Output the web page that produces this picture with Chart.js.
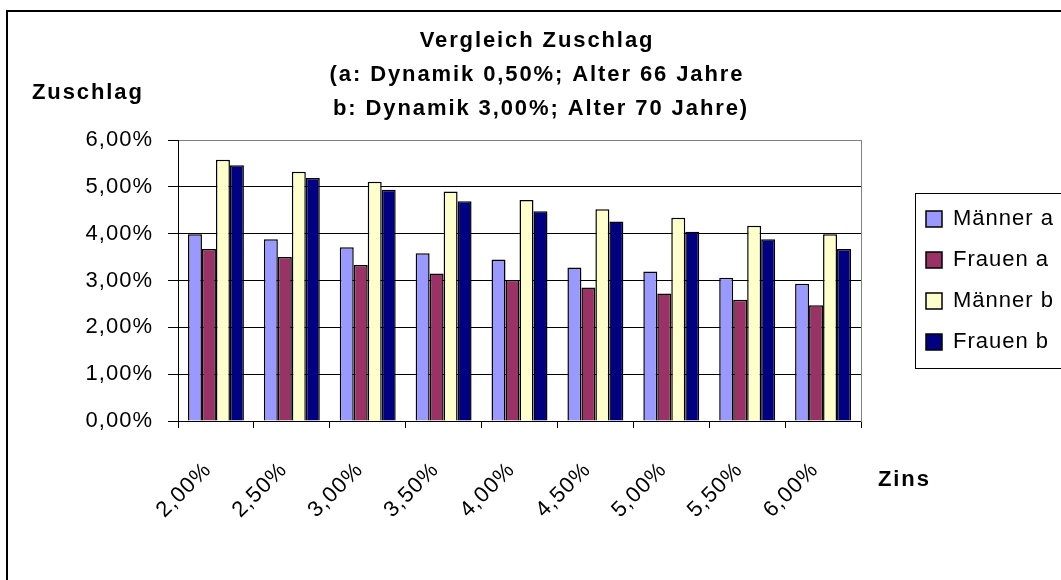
<!DOCTYPE html>
<html>
<head>
<meta charset="utf-8">
<script src="https://cdn.jsdelivr.net/npm/chart.js@4"></script>
<style>
html,body{margin:0;padding:0;background:#ffffff;}
#wrap{position:relative;width:1061px;height:580px;}
</style>
</head>
<body>
<div id="wrap"><canvas id="c"></canvas></div>
<script>
// ---- data ----
const categories = ['2,00%','2,50%','3,00%','3,50%','4,00%','4,50%','5,00%','5,50%','6,00%'];
const seriesNames = ['Männer a','Frauen a','Männer b','Frauen b'];
const maennerA = [3.99, 3.88, 3.71, 3.58, 3.45, 3.28, 3.19, 3.06, 2.93];
const frauenA  = [3.67, 3.50, 3.33, 3.15, 3.01, 2.85, 2.72, 2.59, 2.47];
const maennerB = [5.58, 5.32, 5.11, 4.90, 4.72, 4.52, 4.34, 4.17, 3.99];
const frauenB  = [5.46, 5.19, 4.94, 4.69, 4.48, 4.26, 4.04, 3.88, 3.67];
const yMin = 0, yMax = 6, yStep = 1;
const titleLines = ['Vergleich Zuschlag', '(a: Dynamik 0,50%; Alter 66 Jahre', ' b: Dynamik 3,00%; Alter 70 Jahre)'];
const yAxisTitle = 'Zuschlag';
const xAxisTitle = 'Zins';

// ---- styles ----
const FAMILY = '"Liberation Sans", Arial, sans-serif';
const colors = ['#9999FF', '#993366', '#FFFFCC', '#000080'];

const decor = {
  id: 'decor',
  beforeLayout(chart) { chart.ctx.letterSpacing = '1px'; },
  beforeDraw(chart) {
    const ctx = chart.ctx;
    ctx.letterSpacing = '1px';
    ctx.save();
    ctx.strokeStyle = '#000';
    ctx.lineWidth = 2;
    ctx.beginPath();
    ctx.moveTo(7, 600);
    ctx.lineTo(7, 11);
    ctx.lineTo(1070, 11);
    ctx.stroke();
    ctx.restore();
  },
  afterDraw(chart) {
    const ctx = chart.ctx;
    ctx.save();
    ctx.fillStyle = '#000';
    ctx.font = 'bold 22px ' + FAMILY;
    ctx.letterSpacing = '1.9px';
    ctx.textBaseline = 'alphabetic';
    ctx.textAlign = 'center';
    const baselines = [47, 81, 115];
    titleLines.forEach((t, i) => ctx.fillText(t, 537, baselines[i]));
    ctx.textAlign = 'left';
    ctx.fillText(yAxisTitle, 32, 99);
    ctx.fillText(xAxisTitle, 878, 486);
    // legend frame
    const lg = chart.legend;
    if (lg && lg.legendHitBoxes && lg.legendHitBoxes.length) {
      const hb = lg.legendHitBoxes;
      const first = hb[0], last = hb[hb.length - 1];
      const x0 = first.left - 11;
      const y0 = first.top - 15;
      const y1 = last.top + last.height + 15;
      ctx.letterSpacing = '0px';
      ctx.strokeStyle = '#000';
      ctx.lineWidth = 1;
      ctx.strokeRect(Math.round(x0) + 0.5, Math.round(y0) + 0.5, 1070 - x0, Math.round(y1 - y0));
    }
    ctx.restore();
  }
};

const datasets = [maennerA, frauenA, maennerB, frauenB].map((d, i) => ({
  label: seriesNames[i],
  data: d,
  backgroundColor: colors[i],
  borderColor: '#000000',
  borderWidth: 1.5,
  categoryPercentage: 0.737,
  barPercentage: 1.0
}));

new Chart(document.getElementById('c'), {
  type: 'bar',
  data: { labels: categories, datasets },
  options: {
    responsive: true,
    maintainAspectRatio: false,
    animation: false,
    devicePixelRatio: 1,
    layout: { padding: { top: 140, right: 0, bottom: 0, left: 0 } },
    plugins: {
      title: { display: false },
      tooltip: { enabled: false },
      legend: {
        display: true,
        position: 'right',
        align: 'center',
        fullSize: false,
        maxWidth: 154,
        labels: {
          font: { family: FAMILY, size: 22 },
          color: '#000',
          boxWidth: 16,
          boxHeight: 16,
          padding: 19
        }
      }
    },
    scales: {
      x: {
        offset: true,
        grid: { drawOnChartArea: false, drawTicks: true, tickLength: 7, color: '#000', offset: true },
        border: { color: '#000', width: 1 },
        ticks: {
          font: { family: FAMILY, size: 22 },
          color: '#000',
          minRotation: 45,
          maxRotation: 45,
          autoSkip: false,
          padding: 29,
          labelOffset: -8
        },
        afterFit(s) { s.height = 159; }
      },
      y: {
        position: 'left',
        min: yMin,
        max: yMax,
        grid: {
          color: (c) => (c.tick && c.tick.value === yMax) ? '#808080' : '#000000',
          tickColor: '#000',
          tickLength: 10,
          lineWidth: 1
        },
        border: { color: '#000', width: 1 },
        ticks: {
          stepSize: yStep,
          font: { family: FAMILY, size: 22 },
          color: '#000',
          padding: 15,
          callback: (v) => v.toFixed(2).replace('.', ',') + '%'
        },
        afterFit(s) { s.width = 178; }
      },
      y2: {
        position: 'right',
        display: true,
        grid: { display: true, drawOnChartArea: false, drawTicks: false },
        border: { display: true, color: '#808080', width: 1 },
        ticks: { display: false },
        afterFit(s) { s.width = 46; }
      }
    }
  },
  plugins: [decor]
});
</script>
</body>
</html>
